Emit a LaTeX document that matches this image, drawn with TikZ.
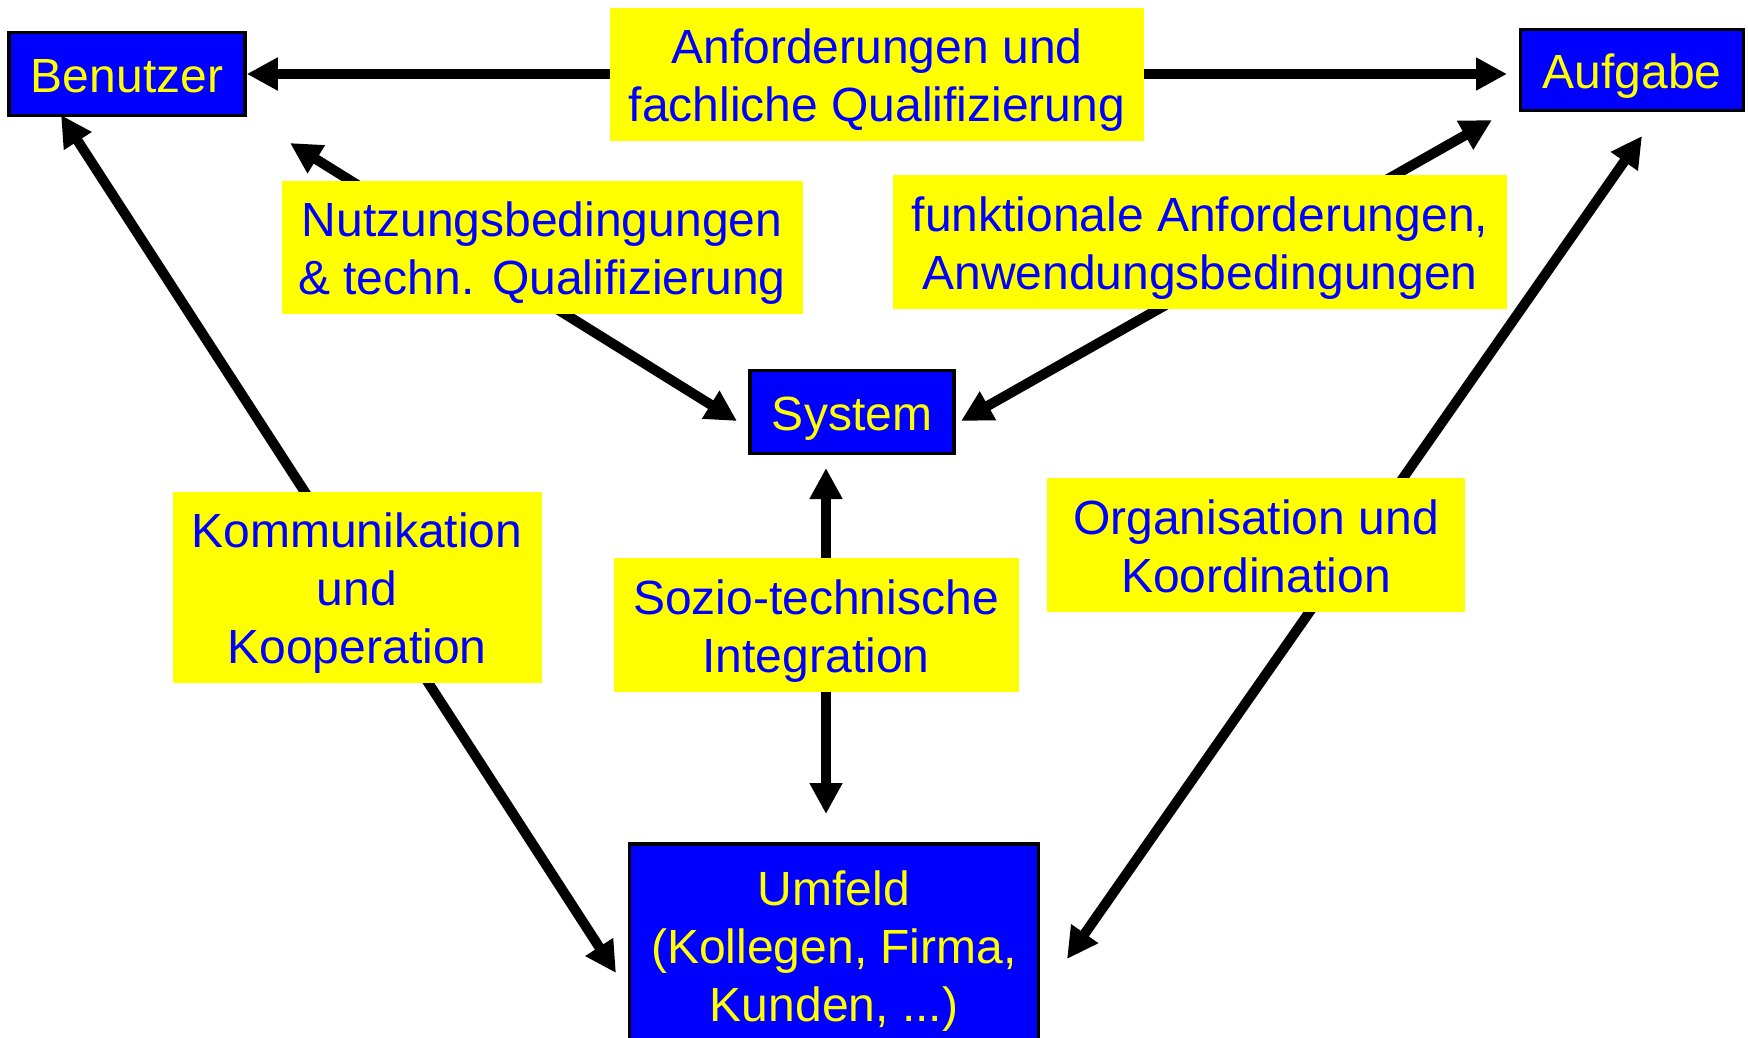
\documentclass[tikz,border=0pt]{standalone}
\usepackage{fontspec}
\setmainfont{Liberation Sans}
\usetikzlibrary{arrows.meta,backgrounds}
\definecolor{bblue}{RGB}{0,0,255}
\definecolor{yyellow}{RGB}{255,255,0}
\newcommand\tstrut{\rule[-10pt]{0pt}{57pt}}
\begin{document}
\begin{tikzpicture}[x=1pt,y=-1pt,
  every node/.style={font=\fontsize{48}{58}\selectfont, align=center, inner sep=0pt},
  bluebox/.style={fill=bblue, draw=black, line width=3.5pt, text=yyellow},
  yellowbox/.style={fill=yyellow, text=bblue},
  conn/.style={line width=10pt, {Triangle[length=31pt,width=31pt]}-{Triangle[length=31pt,width=31pt]}},
]
\useasboundingbox (0,0) rectangle (1748,1037);
% blue boxes
\node[bluebox, minimum width=236pt, minimum height=83pt] (benutzer) at (127,74) {\tstrut Benutzer};
\node[bluebox, minimum width=223pt, minimum height=81pt] (aufgabe) at (1632,70) {\tstrut Aufgabe};
\node[bluebox, minimum width=204pt, minimum height=83pt] (system) at (852,412) {\tstrut System};
\node[bluebox, minimum width=409pt, minimum height=202pt] (umfeld) at (834,945) {\tstrut Umfeld\\\tstrut(Kollegen, Firma,\\\tstrut Kunden, ...)};
% yellow labels
\node[yellowbox, minimum width=534pt, minimum height=133pt] (l1) at (877,74) {\tstrut Anforderungen und\\\tstrut fachliche Qualifizierung};
\node[yellowbox, minimum width=521pt, minimum height=133pt] (l2) at (542,247) {\tstrut Nutzungsbedingungen\\\tstrut\& techn. Qualifizierung};
\node[yellowbox, minimum width=614pt, minimum height=134pt] (l3) at (1200,242) {\tstrut funktionale Anforderungen,\\\tstrut Anwendungsbedingungen};
\node[yellowbox, minimum width=369pt, minimum height=191pt] (l4) at (357,587) {\tstrut Kommunikation\\\tstrut und\\\tstrut Kooperation};
\node[yellowbox, minimum width=405pt, minimum height=134pt] (l5) at (816,625) {\tstrut Sozio-technische\\\tstrut Integration};
\node[yellowbox, minimum width=418pt, minimum height=134pt] (l6) at (1256,545) {\tstrut Organisation und\\\tstrut Koordination};
% connector end points
\coordinate (topR) at (1507,74);
\coordinate (nuA) at (290,143);
\coordinate (nuB) at (737,421);
\coordinate (fuA) at (1492,120);
\coordinate (fuB) at (961,421);
\coordinate (koA) at (61,115);
\coordinate (koB) at (616,973);
\coordinate (orA) at (1642,136);
\coordinate (orB) at (1067,959);
\coordinate (soA) at (826,468);
\coordinate (soB) at (826,814);
\begin{scope}[on background layer]
\draw[conn] (benutzer.east) -- (topR);
\draw[conn] (nuA) -- (nuB);
\draw[conn] (fuA) -- (fuB);
\draw[conn] (koA) -- (koB);
\draw[conn] (orA) -- (orB);
\draw[conn] (soA) -- (soB);
\end{scope}
\end{tikzpicture}
\end{document}
